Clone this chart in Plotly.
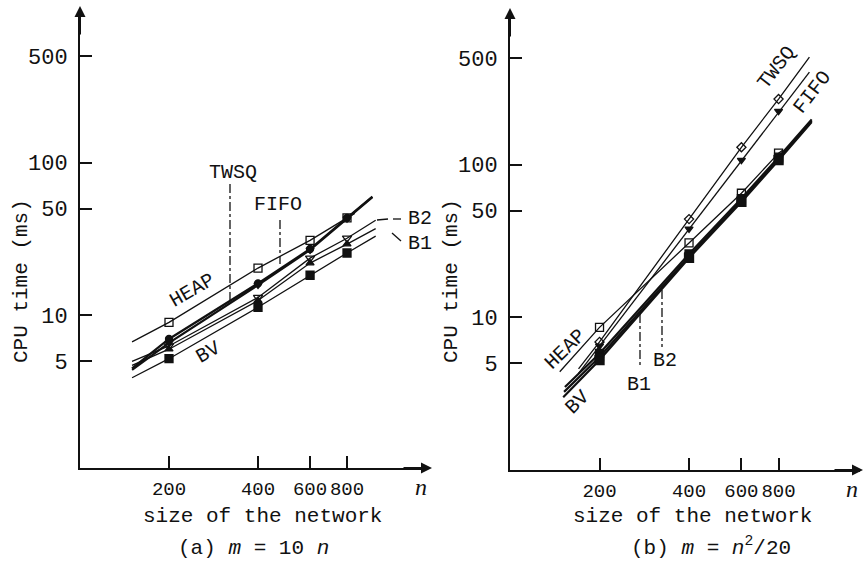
import plotly.graph_objects as go

# ---------------- data ----------------
N = [200, 400, 600, 800]
X_TICKS = [200, 400, 600, 800]
X_TICK_TEXT = ["200", "400", "600", "800"]
Y_TICKS = [5, 10, 50, 100, 500]
Y_TICK_TEXT = ["5", "10", "50", "100", "500"]

# panel (a)  m = 10 n   -- CPU time (ms) at n = 200, 400, 600, 800
HEAP_A = [9.0, 20.4, 31.0, 43.5]
TWSQ_A = [7.0, 16.2, 27.2, 43.5]
FIFO_A = [6.6, 15.8, 26.8, 43.0]
B2_A = [6.3, 13.1, 23.7, 32.0]
B1_A = [6.0, 12.5, 22.0, 29.3]
BV_A = [5.2, 11.3, 18.3, 25.6]
# extensions of the drawn lines: (n_start, t_start, n_end, t_end)
HEAP_A_ENDS = [150, 6.7, 850, 46.5]
TWSQ_A_ENDS = [150, 4.5, 975, 60.0]
FIFO_A_ENDS = [150, 4.4, 975, 59.5]
B2_A_ENDS = [150, 5.0, 1000, 42.0]
B1_A_ENDS = [150, 4.7, 1000, 37.0]
BV_A_ENDS = [150, 3.9, 1000, 33.0]

# panel (b)  m = n^2/20
HEAP_B = [8.6, 30.7, 65.0, 119.0]
TWSQ_B = [6.9, 44.0, 130.0, 269.0]
FIFO_B = [6.5, 38.0, 107.0, 224.0]
B2_B = [5.8, 26.0, 60.0, 112.0]
B1_B = [5.5, 25.0, 58.0, 109.0]
BV_B = [5.25, 24.5, 57.0, 107.0]
HEAP_B_ENDS = [147, 4.4, 830, 125.0]
TWSQ_B_ENDS = [170, 4.6, 1016, 507.0]
FIFO_B_ENDS = [170, 4.3, 1016, 404.0]
B2_B_ENDS = [153, 3.5, 1034, 198.0]
B1_B_ENDS = [152, 3.25, 1034, 194.0]
BV_B_ENDS = [151, 3.0, 1034, 190.0]

# ---------------- styling ----------------
W, H = 866, 564
MONO = "Liberation Mono"
SERIF = "Liberation Serif"
INK = "#111111"


def X(px):
    return px / W


def Y(py):
    return 1 - py / H


fig = go.Figure()


def add_series(vals, ends, xa, ya, symbol, width, msize=8):
    n_line = [ends[0]] + N + [ends[2]]
    t_line = [ends[1]] + vals + [ends[3]]
    fig.add_trace(go.Scatter(x=n_line, y=t_line, mode="lines", xaxis=xa, yaxis=ya,
                             line=dict(color=INK, width=width), hoverinfo="skip",
                             showlegend=False))
    fig.add_trace(go.Scatter(x=N, y=vals, mode="markers", xaxis=xa, yaxis=ya,
                             marker=dict(symbol=symbol, size=msize, color=INK,
                                         line=dict(color=INK, width=1.3)),
                             showlegend=False))


# panel (a)
add_series(HEAP_A, HEAP_A_ENDS, "x", "y", "square-open", 1.3)
add_series(B2_A, B2_A_ENDS, "x", "y", "triangle-down-open", 1.3)
add_series(B1_A, B1_A_ENDS, "x", "y", "triangle-up", 1.3, 7)
add_series(BV_A, BV_A_ENDS, "x", "y", "square", 1.3)
add_series(TWSQ_A, TWSQ_A_ENDS, "x", "y", "circle", 2.2, 7)
add_series(FIFO_A, FIFO_A_ENDS, "x", "y", "triangle-down", 2.2, 7)

# panel (b)
add_series(HEAP_B, HEAP_B_ENDS, "x2", "y2", "square-open", 1.3)
add_series(TWSQ_B, TWSQ_B_ENDS, "x2", "y2", "diamond-open", 1.3, 7)
add_series(FIFO_B, FIFO_B_ENDS, "x2", "y2", "triangle-down", 1.3, 7)
add_series(B2_B, B2_B_ENDS, "x2", "y2", "square", 2.2)
add_series(B1_B, B1_B_ENDS, "x2", "y2", "square", 2.2)
add_series(BV_B, BV_B_ENDS, "x2", "y2", "square", 2.2, 9)

axis_common = dict(type="log", showgrid=False, zeroline=False, showline=True,
                   linecolor=INK, linewidth=2, ticks="inside", ticklen=12,
                   tickwidth=2, tickcolor=INK, mirror=False, automargin=False)

xa_common = dict(axis_common, range=[2.0, 3.177], tickvals=X_TICKS,
                 ticktext=X_TICK_TEXT, ticklabelstandoff=2, tickangle=0,
                 tickfont=dict(family=MONO, size=19, color=INK))
ya_common = dict(axis_common, range=[0.0, 3.0], tickvals=Y_TICKS,
                 ticktext=Y_TICK_TEXT, ticklabelstandoff=6,
                 tickfont=dict(family=MONO, size=22, color=INK))

fig.update_layout(
    template="none",
    width=W, height=H,
    margin=dict(l=0, r=0, t=0, b=0, autoexpand=False),
    paper_bgcolor="white", plot_bgcolor="white",
    showlegend=False,
    xaxis=dict(xa_common, domain=[X(80), X(428)], anchor="y"),
    yaxis=dict(ya_common, domain=[Y(468), Y(10)], anchor="x"),
    xaxis2=dict(xa_common, domain=[X(510), X(860)], anchor="y2"),
    yaxis2=dict(ya_common, domain=[Y(470), Y(12)], anchor="x2"),
)

ann = []


def text(px, py, s, size=21, angle=0, family=MONO, xanchor="center"):
    ann.append(dict(x=X(px), y=Y(py), xref="paper", yref="paper", text=s,
                    showarrow=False, textangle=angle, xanchor=xanchor,
                    yanchor="middle", font=dict(family=family, size=size, color=INK)))


def arrow(px, py, dx, dy):
    ann.append(dict(x=X(px), y=Y(py), xref="paper", yref="paper", text="",
                    showarrow=True, ax=dx, ay=dy, arrowhead=2, arrowsize=1.1,
                    arrowwidth=2, arrowcolor=INK))


# axis arrows
arrow(80, 6, 0, 30)
arrow(432, 468, -30, 0)
arrow(510, 8, 0, 30)
arrow(863, 470, -30, 0)

# axis titles and captions
text(21, 281, "CPU time (ms)", 21, -90)
text(451, 281, "CPU time (ms)", 21, -90)
text(262, 516, "size of the network", 21)
text(692, 516, "size of the network", 21)
text(421, 487, "<i>n</i>", 24, family=SERIF)
text(852, 489, "<i>n</i>", 24, family=SERIF)
text(254, 548, "(a) <i>m</i> = 10 <i>n</i>", 21)
text(711, 546, "(b) <i>m</i> = <i>n</i><sup>2</sup>/20", 21)

# series labels, panel (a)
text(233, 172, "TWSQ", 20)
text(278, 205, "FIFO", 20)
text(192, 290, "HEAP", 20, -30)
text(208, 352, "BV", 20, -30)
text(420, 218, "B2", 20)
text(420, 243, "B1", 20)

# series labels, panel (b)
text(565, 349, "HEAP", 20, -44)
text(577, 402, "BV", 20, -45)
text(777, 68, "TWSQ", 20, -52)
text(812, 92, "FIFO", 20, -52)
text(639, 384, "B1", 20)
text(665, 360, "B2", 20)

fig.update_layout(annotations=ann)

shapes = []


def seg(x0, y0, x1, y1, dash="solid", width=1.3):
    shapes.append(dict(type="line", xref="paper", yref="paper", x0=X(x0), y0=Y(y0),
                       x1=X(x1), y1=Y(y1), line=dict(color=INK, width=width, dash=dash)))


# leader lines panel (a)
seg(230, 184, 230, 300, "dashdot")
seg(280, 220, 280, 264, "dashdot")
seg(377, 220, 388, 219)
seg(393, 219, 401, 219)
seg(392, 233, 401, 241)
# leader lines panel (b)
seg(640, 314, 640, 368, "dashdot")
seg(662, 290, 662, 347, "dashdot")

fig.update_layout(shapes=shapes)

fig.write_html("out.html",
               config={"displayModeBar": False},
               post_script="document.body.style.margin='0px';"
                           "document.body.style.overflow='hidden';")
